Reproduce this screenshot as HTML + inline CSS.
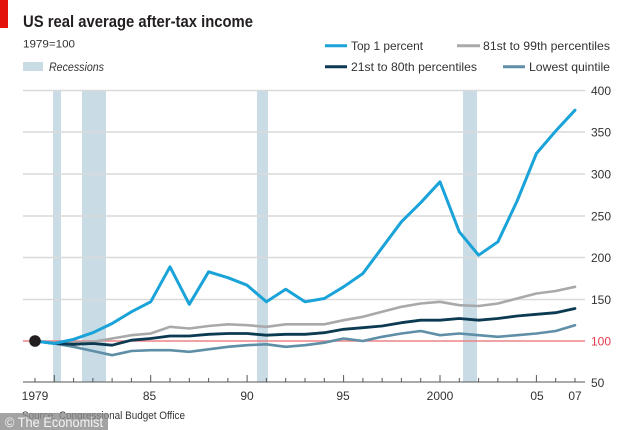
<!DOCTYPE html>
<html><head><meta charset="utf-8"><style>
html,body{margin:0;padding:0;background:#fff;}
svg{display:block;}
text{font-family:"Liberation Sans",sans-serif;}
</style></head><body>
<svg width="634" height="430" viewBox="0 0 634 430" xmlns="http://www.w3.org/2000/svg">
<rect width="634" height="430" fill="#fff"/>
<rect x="0" y="0" width="8" height="28" fill="#e3120b"/>
<text x="23" y="27" font-size="16.5" font-weight="bold" fill="#231f20" textLength="230" lengthAdjust="spacingAndGlyphs">US real average after-tax income</text>
<text x="23" y="47.5" font-size="11" fill="#333" textLength="52" lengthAdjust="spacingAndGlyphs">1979=100</text>
<rect x="23" y="62" width="20" height="9" fill="#c9dce6"/>
<text x="49" y="71" font-size="12" font-style="italic" fill="#333" textLength="55" lengthAdjust="spacingAndGlyphs">Recessions</text>

<!-- legend -->
<g font-size="12" fill="#333">
<line x1="325" y1="45.7" x2="347" y2="45.7" stroke="#1aa3d8" stroke-width="3"/>
<text x="351" y="50" textLength="72" lengthAdjust="spacingAndGlyphs">Top 1 percent</text>
<line x1="457" y1="45.7" x2="480" y2="45.7" stroke="#a9a9ab" stroke-width="3"/>
<text x="483" y="50" textLength="127" lengthAdjust="spacingAndGlyphs">81st to 99th percentiles</text>
<line x1="325" y1="66.7" x2="347" y2="66.7" stroke="#0b3a52" stroke-width="3"/>
<text x="351" y="71" textLength="126" lengthAdjust="spacingAndGlyphs">21st to 80th percentiles</text>
<line x1="503" y1="66.7" x2="525" y2="66.7" stroke="#5e8fa6" stroke-width="3"/>
<text x="529" y="71" textLength="81" lengthAdjust="spacingAndGlyphs">Lowest quintile</text>
</g>

<!-- recessions -->
<g fill="#c9dce6">
<rect x="53" y="90" width="8" height="292"/>
<rect x="82" y="90" width="24" height="292"/>
<rect x="257" y="90" width="11" height="292"/>
<rect x="463" y="90" width="14" height="292"/>
</g>

<!-- gridlines -->
<g stroke="#d9d9d9" stroke-width="1.5">
<line x1="23" y1="90.5" x2="585" y2="90.5"/>
<line x1="23" y1="132" x2="585" y2="132"/>
<line x1="23" y1="174" x2="585" y2="174"/>
<line x1="23" y1="216" x2="585" y2="216"/>
<line x1="23" y1="257.5" x2="585" y2="257.5"/>
<line x1="23" y1="299.5" x2="585" y2="299.5"/>
</g>
<line x1="23" y1="341" x2="585" y2="341" stroke="#eb8487" stroke-width="1.6"/>

<!-- y labels -->
<g font-size="12" fill="#333">
<text x="591" y="95">400</text>
<text x="591" y="136.5">350</text>
<text x="591" y="178.5">300</text>
<text x="591" y="220.5">250</text>
<text x="591" y="262">200</text>
<text x="591" y="304">150</text>
<text x="591" y="345.5" fill="#e8394a">100</text>
<text x="591" y="387">50</text>
</g>

<!-- axis -->
<line x1="23" y1="382" x2="585" y2="382" stroke="#555" stroke-width="1"/>
<g stroke="#555" stroke-width="1">
<line x1="35" y1="382" x2="35" y2="378"/>
<line x1="54.3" y1="382" x2="54.3" y2="375"/>
<line x1="73.6" y1="382" x2="73.6" y2="378"/>
<line x1="92.9" y1="382" x2="92.9" y2="378"/>
<line x1="112.1" y1="382" x2="112.1" y2="378"/>
<line x1="131.4" y1="382" x2="131.4" y2="378"/>
<line x1="150.7" y1="382" x2="150.7" y2="375"/>
<line x1="170" y1="382" x2="170" y2="378"/>
<line x1="189.3" y1="382" x2="189.3" y2="378"/>
<line x1="208.6" y1="382" x2="208.6" y2="378"/>
<line x1="227.9" y1="382" x2="227.9" y2="378"/>
<line x1="247.1" y1="382" x2="247.1" y2="375"/>
<line x1="266.4" y1="382" x2="266.4" y2="378"/>
<line x1="285.7" y1="382" x2="285.7" y2="378"/>
<line x1="305" y1="382" x2="305" y2="378"/>
<line x1="324.3" y1="382" x2="324.3" y2="378"/>
<line x1="343.6" y1="382" x2="343.6" y2="375"/>
<line x1="362.9" y1="382" x2="362.9" y2="378"/>
<line x1="382.1" y1="382" x2="382.1" y2="378"/>
<line x1="401.4" y1="382" x2="401.4" y2="378"/>
<line x1="420.7" y1="382" x2="420.7" y2="378"/>
<line x1="440" y1="382" x2="440" y2="375"/>
<line x1="459.3" y1="382" x2="459.3" y2="378"/>
<line x1="478.6" y1="382" x2="478.6" y2="378"/>
<line x1="497.9" y1="382" x2="497.9" y2="378"/>
<line x1="517.1" y1="382" x2="517.1" y2="378"/>
<line x1="536.4" y1="382" x2="536.4" y2="375"/>
<line x1="555.7" y1="382" x2="555.7" y2="378"/>
<line x1="575" y1="382" x2="575" y2="378"/>
</g>
<g font-size="12" fill="#333" text-anchor="middle">
<text x="35" y="400">1979</text>
<text x="149.5" y="400">85</text>
<text x="247" y="400">90</text>
<text x="343" y="400">95</text>
<text x="440" y="400">2000</text>
<text x="537" y="400">05</text>
<text x="575" y="400">07</text>
</g>

<!-- series -->
<g fill="none" stroke-linejoin="round" stroke-linecap="round">
<polyline stroke="#5e8fa6" stroke-width="2.6" points="35,341 54.3,343.5 73.6,346.8 92.9,351 112.1,355.2 131.4,351 150.7,350.2 170,350.2 189.3,351.8 208.6,349.3 227.9,346.8 247.1,345.2 266.4,344.3 285.7,346.8 305,345.2 324.3,342.7 343.6,338.5 362.9,341 382.1,336.8 401.4,333.5 420.7,331 440,335.2 459.3,333.5 478.6,335.2 497.9,336.8 517.1,335.2 536.4,333.5 555.7,331 575,325.2"/>
<polyline stroke="#a9a9ab" stroke-width="2.6" points="35,341 54.3,342.7 73.6,342.7 92.9,341.8 112.1,338.5 131.4,335.2 150.7,333.5 170,326.8 189.3,328.5 208.6,326 227.9,324.3 247.1,325.2 266.4,326.8 285.7,324.3 305,324.3 324.3,324.3 343.6,320.2 362.9,316.8 382.1,311.8 401.4,306.8 420.7,303.5 440,301.8 459.3,305.2 478.6,306 497.9,303.5 517.1,298.5 536.4,293.5 555.7,291 575,286.8"/>
<polyline stroke="#0b3a52" stroke-width="2.8" points="35,341 54.3,343.5 73.6,344.3 92.9,343.5 112.1,345.2 131.4,340.2 150.7,338.5 170,336 189.3,336 208.6,334.3 227.9,333.5 247.1,333.5 266.4,335.2 285.7,334.3 305,334.3 324.3,332.7 343.6,329.3 362.9,327.7 382.1,326 401.4,322.7 420.7,320.2 440,320.2 459.3,318.5 478.6,320.2 497.9,318.5 517.1,316 536.4,314.3 555.7,312.7 575,308.5"/>
<polyline stroke="#1aa3d8" stroke-width="3" points="35,341 54.3,343.5 73.6,339.3 92.9,332.7 112.1,323.5 131.4,311.8 150.7,301.8 170,266.8 189.3,304.3 208.6,271.8 227.9,277.7 247.1,285.2 266.4,301.8 285.7,289.3 305,301.8 324.3,298.5 343.6,286.8 362.9,273.5 382.1,247.7 401.4,221.8 420.7,202.7 440,181.8 459.3,231.8 478.6,255.2 497.9,241.8 517.1,201 536.4,153.5 555.7,131 575,110.2"/>
</g>
<circle cx="35" cy="341" r="5.8" fill="#231f20"/>

<text x="22" y="419" font-size="11" fill="#333" textLength="163" lengthAdjust="spacingAndGlyphs">Source: Congressional Budget Office</text>
<rect x="0" y="413" width="108" height="17" fill="#8c8c8c" fill-opacity="0.8"/>
<text x="5" y="427" font-size="14" fill="#f4f4f4" textLength="98" lengthAdjust="spacingAndGlyphs">© The Economist</text>
</svg>
</body></html>
